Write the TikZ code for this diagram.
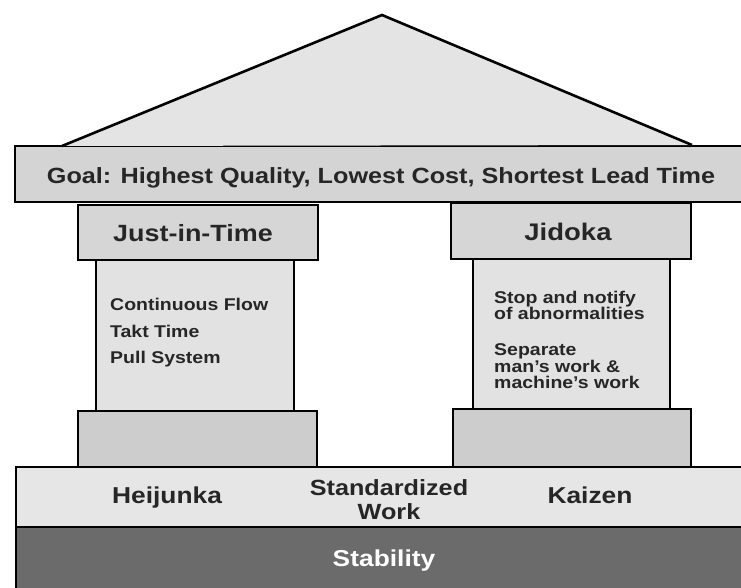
\documentclass[tikz,border=0pt]{standalone}
\usepackage{fontspec}
\setmainfont{Liberation Sans}
\usetikzlibrary{positioning}

\definecolor{ink}{HTML}{262626}
\definecolor{capfill}{HTML}{D6D6D6}
\definecolor{goalfill}{HTML}{D4D4D4}
\definecolor{shaftfill}{HTML}{E2E2E2}
\definecolor{basefill}{HTML}{CDCDCD}
\definecolor{groundfill}{HTML}{E6E6E6}
\definecolor{stabfill}{HTML}{6B6B6B}
\definecolor{rooffill}{HTML}{E4E4E4}

% wide bold lettering
\newcommand\wide[1]{\scalebox{1.146}[1]{\bfseries #1}}

\tikzset{
  block/.style={draw=black, line width=2.6pt, inner sep=0pt, outer sep=0pt,
                anchor=north west},
  label/.style={text=ink, inner sep=0pt, anchor=base},
  itemtext/.style={text=ink, inner sep=0pt, anchor=base west,
                   font=\fontsize{17}{17}\selectfont},
}

\begin{document}
\begin{tikzpicture}[x=1pt,y=-1pt]
  \fill[white] (0,0) rectangle (741,587);
  \useasboundingbox (0,0) rectangle (741,587);

  % foundation: stability band and the band of practices
  \node[block, fill=stabfill, minimum width=740pt, minimum height=64pt] (stab) at (16,527) {};
  \node[block, fill=groundfill, minimum width=740pt, minimum height=60pt] (ground) at (16,467) {};

  % left pillar
  \node[block, fill=basefill, minimum width=239pt, minimum height=56pt] (jitbase) at (78,411) {};
  \node[block, fill=shaftfill, minimum width=198pt, minimum height=151pt] (jitshaft) at (96,260) {};
  \node[block, fill=capfill, minimum width=240pt, minimum height=55pt] (jitcap) at (78,205) {};

  % right pillar
  \node[block, fill=basefill, minimum width=238pt, minimum height=58pt] (jidbase) at (453,409) {};
  \node[block, fill=shaftfill, minimum width=197pt, minimum height=150pt] (jidshaft) at (473,259) {};
  \node[block, fill=capfill, minimum width=240pt, minimum height=56pt] (jidcap) at (451,203) {};

  % goal beam
  \node[block, fill=goalfill, minimum width=740pt, minimum height=56pt] (goal) at (15,146) {};

  % roof
  \coordinate (eaveL) at (62,146);
  \coordinate (apex) at (382,15);
  \coordinate (eaveR) at (692,145);
  \fill[rooffill] (eaveL) -- (apex) -- (eaveR) -- cycle;
  \draw[line width=2.6pt, line join=miter] (eaveL) -- (apex) -- (eaveR);

  % labels
  \node[label, font=\fontsize{22}{22}\selectfont] (goaltxt) at (381,183)
    {\wide{Goal: Highest Quality, Lowest Cost, Shortest Lead Time}};
  \node[label, font=\fontsize{23.5}{23.5}\selectfont] (jittxt) at (193,241) {\wide{Just-in-Time}};
  \node[label, font=\fontsize{24}{24}\selectfont] (jidtxt) at (568,240) {\wide{Jidoka}};

  \node[itemtext] (flow) at (110,310) {\wide{Continuous Flow}};
  \node[itemtext] (takt) at (110,337) {\wide{Takt Time}};
  \node[itemtext] (pull) at (110,363) {\wide{Pull System}};

  \node[itemtext] (stop1) at (494,303) {\wide{Stop and notify}};
  \node[itemtext] (stop2) at (494,319) {\wide{of abnormalities}};
  \node[itemtext] (sep1) at (494,355) {\wide{Separate}};
  \node[itemtext] (sep2) at (494,372) {\wide{man's work \&}};
  \node[itemtext] (sep3) at (494,388) {\wide{machine's work}};

  \node[label, font=\fontsize{23}{23}\selectfont] (heij) at (167,503) {\wide{Heijunka}};
  \node[label, font=\fontsize{22}{22}\selectfont] (std1) at (389,495) {\wide{Standardized}};
  \node[label, font=\fontsize{22}{22}\selectfont] (std2) at (389,519) {\wide{Work}};
  \node[label, font=\fontsize{23}{23}\selectfont] (kaiz) at (590,503) {\wide{Kaizen}};
  \node[label, font=\fontsize{23}{23}\selectfont, text=white] (stabtxt) at (384,566) {\wide{Stability}};
\end{tikzpicture}
\end{document}
